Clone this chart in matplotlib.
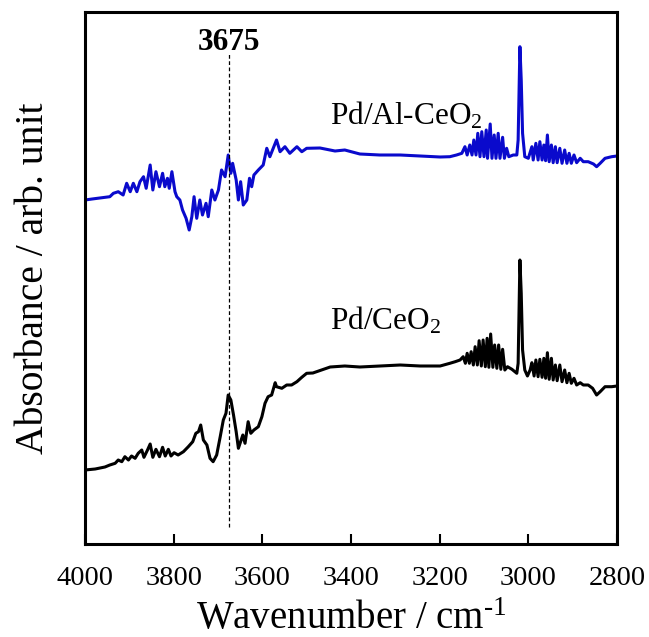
import matplotlib
matplotlib.use("Agg")
import matplotlib.pyplot as plt

plt.rcParams['font.family'] = ['Liberation Serif', 'DejaVu Serif']
plt.rcParams['mathtext.fontset'] = 'custom'
plt.rcParams['mathtext.rm'] = 'Liberation Serif'
plt.rcParams['mathtext.it'] = 'Liberation Serif:italic'
plt.rcParams['mathtext.bf'] = 'Liberation Serif:bold'

# ---- data: Pd/Al-CeO2 (blue) ----
wn_al = [4000, 3984, 3966, 3955, 3944, 3936, 3925, 3914, 3906, 3898, 3891, 3883, 3876, 3868,
         3862, 3853, 3847, 3840, 3832, 3825, 3820, 3814, 3810, 3804, 3797, 3793, 3786, 3780,
         3772, 3765, 3759, 3754, 3748, 3741, 3735, 3727, 3722, 3714, 3707, 3699, 3692, 3684,
         3677, 3671, 3667, 3659, 3654, 3649, 3643, 3635, 3629, 3624, 3619, 3609, 3598, 3590,
         3583, 3568, 3560, 3549, 3538, 3522, 3511, 3500, 3470, 3436, 3414, 3380, 3335, 3289,
         3244, 3199, 3177, 3162, 3150, 3143, 3138, 3132, 3127, 3123, 3118, 3114, 3109, 3105,
         3100, 3095, 3092, 3086, 3082, 3077, 3073, 3068, 3064, 3058, 3054, 3049, 3044, 3034,
         3026, 3023, 3019, 3016, 3013, 3008, 3000, 2992, 2989, 2983, 2978, 2974, 2969, 2965,
         2961, 2957, 2953, 2948, 2944, 2939, 2935, 2929, 2924, 2918, 2913, 2908, 2903, 2897,
         2891, 2883, 2876, 2865, 2853, 2846, 2838, 2827, 2812, 2800]
abs_al = [3.44, 3.45, 3.46, 3.465, 3.473, 3.507, 3.523, 3.49, 3.607, 3.523, 3.607, 3.523, 3.623, 3.673,
          3.557, 3.79, 3.54, 3.723, 3.573, 3.707, 3.573, 3.657, 3.557, 3.723, 3.523, 3.473, 3.44, 3.34,
          3.257, 3.14, 3.273, 3.473, 3.257, 3.44, 3.29, 3.407, 3.273, 3.54, 3.44, 3.54, 3.74, 3.673,
          3.89, 3.707, 3.807, 3.64, 3.44, 3.623, 3.39, 3.44, 3.657, 3.573, 3.69, 3.74, 3.79, 3.957,
          3.873, 4.04, 3.923, 3.973, 3.907, 3.973, 3.923, 3.957, 3.96, 3.93, 3.94, 3.90, 3.89, 3.89,
          3.88, 3.87, 3.873, 3.89, 3.907, 3.973, 3.89, 3.99, 3.89, 4.04, 3.89, 4.107, 3.873, 4.123,
          3.873, 4.14, 3.857, 4.20, 3.857, 4.09, 3.857, 4.107, 3.857, 4.067, 3.857, 3.957, 3.873, 3.89,
          3.89, 4.04, 4.973, 4.64, 4.107, 3.873, 3.857, 3.973, 3.84, 4.007, 3.84, 4.023, 3.84, 3.99,
          3.833, 4.09, 3.823, 3.99, 3.813, 3.973, 3.813, 3.957, 3.807, 3.94, 3.807, 3.907, 3.807, 3.89,
          3.813, 3.857, 3.823, 3.823, 3.80, 3.773, 3.807, 3.857, 3.873, 3.88]

# ---- data: Pd/CeO2 (black) ----
wn_ce = [4000, 3977, 3955, 3944, 3932, 3925, 3917, 3910, 3902, 3895, 3887, 3880, 3872, 3867,
         3859, 3853, 3847, 3840, 3832, 3825, 3819, 3812, 3806, 3799, 3790, 3778, 3767, 3757,
         3750, 3744, 3739, 3733, 3725, 3718, 3711, 3703, 3695, 3688, 3682, 3677, 3671, 3665,
         3659, 3654, 3649, 3644, 3639, 3632, 3626, 3619, 3609, 3601, 3594, 3587, 3579, 3571,
         3568, 3556, 3545, 3534, 3522, 3511, 3500, 3486, 3447, 3414, 3380, 3335, 3289, 3244,
         3199, 3177, 3165, 3154, 3147, 3142, 3138, 3133, 3129, 3124, 3120, 3115, 3111, 3106,
         3102, 3097, 3093, 3089, 3085, 3080, 3076, 3071, 3067, 3062, 3058, 3053, 3047, 3037,
         3026, 3023, 3019, 3016, 3013, 3008, 3002, 2996, 2992, 2987, 2983, 2978, 2974, 2969,
         2965, 2961, 2957, 2953, 2948, 2944, 2939, 2935, 2929, 2924, 2918, 2913, 2908, 2903,
         2897, 2891, 2883, 2876, 2865, 2855, 2846, 2838, 2827, 2812, 2800]
abs_ce = [0.74, 0.75, 0.77, 0.79, 0.807, 0.84, 0.823, 0.873, 0.84, 0.88, 0.857, 0.907, 0.94, 0.867,
          0.94, 1.00, 0.867, 0.947, 0.873, 0.967, 0.88, 0.947, 0.88, 0.913, 0.89, 0.923, 0.973, 1.023,
          1.107, 1.123, 1.19, 1.04, 0.99, 0.857, 0.823, 0.89, 1.073, 1.24, 1.307, 1.49, 1.44, 1.29,
          1.123, 0.957, 1.023, 1.09, 1.007, 1.223, 1.107, 1.14, 1.173, 1.273, 1.407, 1.473, 1.49, 1.613,
          1.573, 1.557, 1.59, 1.59, 1.623, 1.667, 1.707, 1.71, 1.77, 1.78, 1.77, 1.78, 1.79, 1.78,
          1.78, 1.807, 1.823, 1.84, 1.873, 1.807, 1.907, 1.807, 1.923, 1.79, 1.973, 1.79, 2.033, 1.78,
          2.04, 1.773, 2.057, 1.767, 2.10, 1.767, 1.99, 1.757, 1.99, 1.747, 1.947, 1.74, 1.773, 1.747,
          1.707, 1.807, 2.84, 2.507, 1.94, 1.74, 1.68, 1.74, 1.813, 1.68, 1.84, 1.673, 1.847, 1.667,
          1.857, 1.657, 1.913, 1.647, 1.857, 1.64, 1.79, 1.633, 1.79, 1.623, 1.74, 1.613, 1.707, 1.607,
          1.657, 1.59, 1.613, 1.59, 1.59, 1.557, 1.49, 1.523, 1.573, 1.573, 1.58]

series_labels = ['Pd/Al-CeO$_2$', 'Pd/CeO$_2$']
series_label_wn = [3447, 3447]
series_label_abs = [4.19, 2.14]

peak_wn = 3675
peak_label = '3675'
peak_label_abs = 4.94
dash_range = [0.17, 4.92]

xticks = [4000, 3800, 3600, 3400, 3200, 3000, 2800]
xlim = (4000, 2800)
ylim = (0, 5.32)

fig = plt.figure(figsize=(6.49, 6.37), dpi=100)
ax = fig.add_axes([85/649, (637-544)/637, (617-85)/649, (544-12)/637])

ax.plot(wn_al, abs_al, color='#0A0ACC', lw=2.2, solid_joinstyle='round')
ax.plot(wn_ce, abs_ce, color='black', lw=2.2, solid_joinstyle='round')
ax.plot([peak_wn, peak_wn], dash_range, color='black', lw=0.9, ls=(0, (3, 2)))

ax.text(peak_wn, peak_label_abs, peak_label, ha='center', va='baseline',
        fontsize=22.5, fontweight='bold')
for lab, x, y in zip(series_labels, series_label_wn, series_label_abs):
    ax.text(x, y, lab, ha='left', va='baseline', fontsize=22.5)

ax.set_xlim(*xlim)
ax.set_ylim(*ylim)
ax.set_xticks(xticks)
ax.set_xticklabels([str(t) for t in xticks])
ax.set_yticks([])
ax.tick_params(axis='x', direction='in', length=7.5, width=1.5, labelsize=20.5, pad=16)
for s in ax.spines.values():
    s.set_linewidth(2.2)

ax.set_xlabel('Wavenumber / cm$^{\\text{-1}}$', fontsize=28, labelpad=7)
ax.set_ylabel('Absorbance / arb. unit', fontsize=28.5, labelpad=24)

fig.savefig('out.png', dpi=100)
